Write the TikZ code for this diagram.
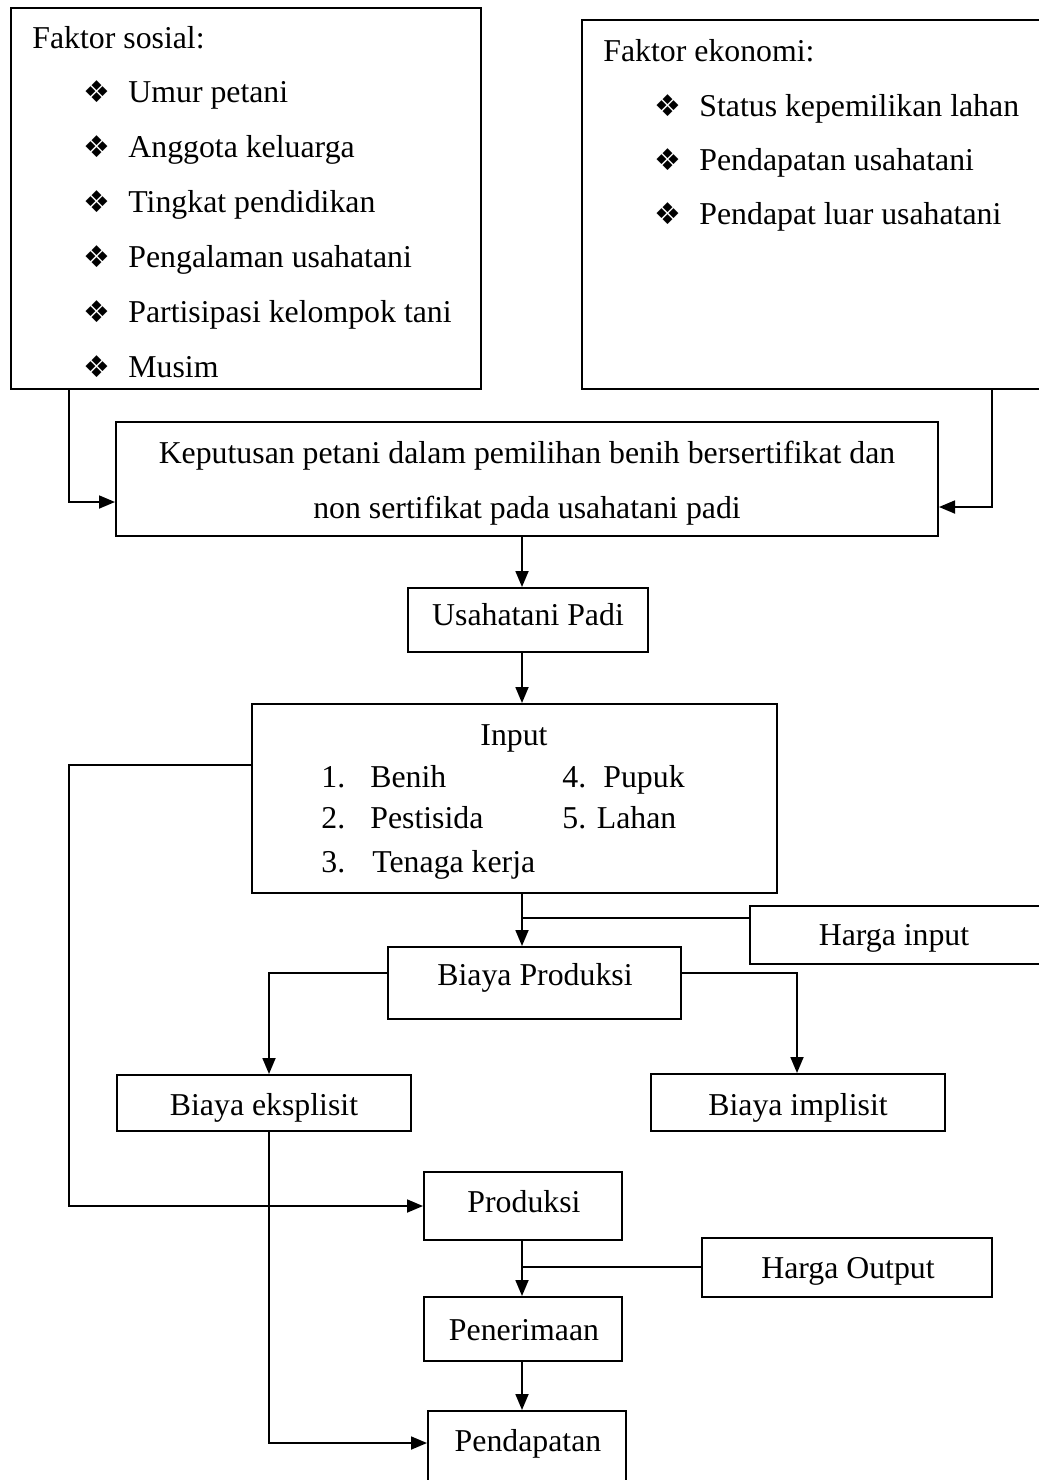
\documentclass[tikz,border=0pt]{standalone}
\usepackage{fontspec}
\setmainfont{Liberation Serif}
\newfontfamily\simbolfont{DejaVu Sans}
\usetikzlibrary{arrows.meta,fit,positioning}
\tikzset{
      mykotak/.style={
        draw,
        line width=1pt,
        inner sep=0pt
      },
      myteks/.style={
        anchor=base west,
        inner sep=0pt
      },
      myjudul/.style={
        anchor=base,
        inner sep=0pt
      },
      mypanah/.style={
        line width=0.9pt,
        -{Triangle[length=8pt,width=6.5pt]}
      },
      mygaris/.style={
        line width=0.9pt
      },
    }
\newcommand{\butir}{\makebox[22.5pt][l]{\simbolfont\fontsize{15}{15}\selectfont ❖}}

\begin{document}
\begin{tikzpicture}[x=0.5pt,y=-0.5pt,font=\fontsize{15.9}{27.5}\selectfont]
            \useasboundingbox (0,0) rectangle (1039,1480);
            \clip (0,0) rectangle (1039,1480);

            %Faktor sosial
            \node[mykotak,fit={(11,8) (481,389)}] (kotakSosial) {};
            \node[myteks] (judulSosial) at (32,48) {Faktor sosial:};
            \foreach \teks [count=\i] in {Umur petani,Anggota keluarga,Tingkat pendidikan,Pengalaman usahatani,Partisipasi kelompok tani,Musim}
              \node[myteks] (sosial\i) at (83,{47+55*\i}) {\butir\teks};

            %Faktor ekonomi
            \node[mykotak,fit={(582,20) (1060,389)}] (kotakEkonomi) {};
            \node[myteks] (judulEkonomi) at (603,61) {Faktor ekonomi:};
            \foreach \teks [count=\i] in {Status kepemilikan lahan,Pendapatan usahatani,Pendapat luar usahatani}
              \node[myteks] (ekonomi\i) at (654,{62+54*\i}) {\butir\teks};

            %Keputusan dan usahatani
            \node[mykotak,fit={(116,422) (938,536)}] (keputusan) {};
            \node[myjudul] (keputusan1) at (527,463) {Keputusan petani dalam pemilihan benih bersertifikat dan};
            \node[myjudul] (keputusan2) at (527,518) {non sertifikat pada usahatani padi};
            \node[mykotak,fit={(408,588) (648,652)}] (usahatani) {};
            \node[myjudul] (judulUsahatani) at (528,625) {Usahatani Padi};

            %Input
            \node[mykotak,fit={(252,704) (777,893)}] (input) {};
            \node[myjudul] (judulInput) at (514,745) {Input};
            \node[myteks] (input1) at (321,787) {\makebox[24.5pt][l]{1.}Benih};
            \node[myteks] (input2) at (321,828) {\makebox[24.5pt][l]{2.}Pestisida};
            \node[myteks] (input3) at (321,872) {\makebox[25.5pt][l]{3.}Tenaga kerja};
            \node[myteks] (input4) at (562,787) {\makebox[20.5pt][l]{4.}Pupuk};
            \node[myteks] (input5) at (562,828) {5. Lahan};

            %Biaya
            \node[mykotak,fit={(750,906) (1050,964)}] (hargaInput) {};
            \node[myjudul] (judulHargaInput) at (894,945) {Harga input};
            \node[mykotak,fit={(388,947) (681,1019)}] (biayaProduksi) {};
            \node[myjudul] (judulBiayaProduksi) at (535,985) {Biaya Produksi};
            \node[mykotak,fit={(117,1075) (411,1131)}] (biayaEksplisit) {};
            \node[myjudul] (judulBiayaEksplisit) at (264,1115) {Biaya eksplisit};
            \node[mykotak,fit={(651,1074) (945,1131)}] (biayaImplisit) {};
            \node[myjudul] (judulBiayaImplisit) at (798,1115) {Biaya implisit};

            %Produksi
            \node[mykotak,fit={(424,1172) (622,1240)}] (produksi) {};
            \node[myjudul] (judulProduksi) at (524,1212) {Produksi};
            \node[mykotak,fit={(702,1238) (992,1297)}] (hargaOutput) {};
            \node[myjudul] (judulHargaOutput) at (848,1278) {Harga Output};
            \node[mykotak,fit={(424,1297) (622,1361)}] (penerimaan) {};
            \node[myjudul] (judulPenerimaan) at (524,1340) {Penerimaan};
            \node[mykotak,fit={(428,1411) (626,1500)}] (pendapatan) {};
            \node[myjudul] (judulPendapatan) at (528,1451) {Pendapatan};

            %Titik belok
            \coordinate (sosialBawah) at (69,502);
            \coordinate (ekonomiBawah) at (992,507);
            \coordinate (batang) at (522,0);
            \coordinate (inputKiri) at (69,765);
            \coordinate (hargaIn) at (522,918);
            \coordinate (produksiKiri) at (269,973);
            \coordinate (produksiKanan) at (797,973);
            \coordinate (eksplisitBawah) at (269,1443);
            \coordinate (hargaOut) at (522,1267);

            \draw [mypanah] (kotakSosial.south -| sosialBawah) |- (keputusan.west |- sosialBawah);
            \draw [mypanah] (kotakEkonomi.south -| ekonomiBawah) |- (keputusan.east |- ekonomiBawah);
            \draw [mypanah] (keputusan.south -| batang) -- (usahatani.north -| batang);
            \draw [mypanah] (usahatani.south -| batang) -- (input.north -| batang);
            \draw [mypanah] (input.south -| batang) -- (biayaProduksi.north -| batang);
            \draw [mygaris] (hargaInput.west |- hargaIn) -- (hargaIn);
            \draw [mypanah] (biayaProduksi.west |- produksiKiri) -| (biayaEksplisit.north -| produksiKiri);
            \draw [mypanah] (biayaProduksi.east |- produksiKanan) -| (biayaImplisit.north -| produksiKanan);
            \draw [mypanah] (input.west |- inputKiri) -- (inputKiri) |- (produksi.west);
            \draw [mypanah] (biayaEksplisit.south -| eksplisitBawah) |- (pendapatan.west |- eksplisitBawah);
            \draw [mypanah] (produksi.south -| batang) -- (penerimaan.north -| batang);
            \draw [mygaris] (hargaOutput.west |- hargaOut) -- (hargaOut);
            \draw [mypanah] (penerimaan.south -| batang) -- (pendapatan.north -| batang);

\end{tikzpicture}
\end{document}
